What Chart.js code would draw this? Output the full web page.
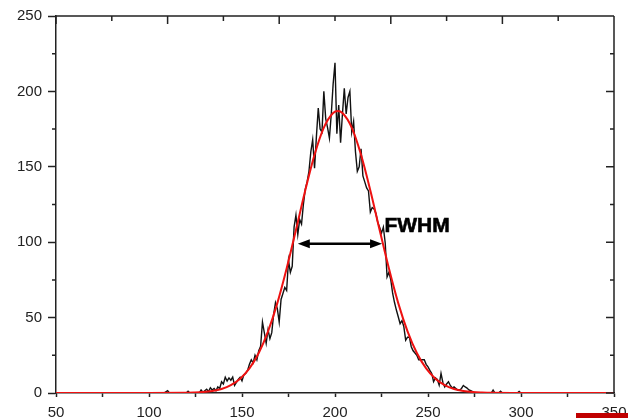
<!DOCTYPE html>
<html><head><meta charset="utf-8">
<script src="https://cdn.jsdelivr.net/npm/chart.js@4/dist/chart.umd.min.js"></script>
<style>
html,body{margin:0;padding:0;background:#fff;}
#wrap{position:relative;width:628px;height:418px;overflow:hidden;background:#fff;}
#mark{position:absolute;left:576px;top:413px;width:52px;height:5px;background:#c00000;}
</style></head><body>
<div id="wrap"><canvas id="c" width="628" height="418"></canvas><div id="mark"></div></div>
<script>
// Measured counts (noisy trace)
const COUNTS_X = [50,108,110,111,120,121,122,127,128,129,131,132,133,134,135,136,137,138,139,140,141,142,143,144,145,146,147,148,149,150,151,152,153,154,155,156,157,158,159,160,161,162,163,164,165,166,167,168,169,170,171,172,173,174,175,176,177,178,179,180,181,182,183,184,185,186,187,188,189,190,191,192,193,194,195,196,197,198,199,200,201,202,203,204,205,206,207,208,209,210,211,212,213,214,215,216,217,218,219,220,221,222,223,224,225,226,227,228,229,230,231,232,233,234,235,236,237,238,239,240,241,242,243,244,245,246,247,248,249,250,251,252,253,254,255,256,257,258,259,260,261,262,263,264,265,266,267,268,269,270,271,272,273,274,275,284,285,286,288,289,290,298,299,300,350];
const COUNTS_Y = [0,0,1.5,0,0,1.2,0,0,2,0.5,2.5,1,3.5,2,3,1.5,4,3,7.5,6,10.5,8,10,8.5,10.5,5,7,9,10.5,8,12,13,15,19,22,20,25,22,28,31,47,40,33,42,36,40,52,60,56,47,62,66,70,68,88,80,84,110,118,105,115,112,125,135,140,147,160,168,149,170,189,175,173,200,182,176,169,185,205,219,172,191,166,185,202,185,196,200,173,180,160,147,150,162,144,140,136,134,120,123,122,119,113,110,106,110,99.5,77,80,75,66,60,55,50.6,46,48,44,35,37,37,30.7,28,26.5,25,22,22,22,22,19,17.4,15,13,7.5,10,9,5.3,13,7,4,6,7.5,5,3.3,4,3,2,2,3,5,4,3.3,2,1.5,1,0,0,2,0,0,1.2,0,0,1,0,0];
// Gaussian fit trace
const FIT_X = [50,100,119,124,129,134,139,144,149,154,159,164,169,174,179,184,189,194,199,201.5,204,209,214,219,224,229,234,239,244,249,254,259,264,269,274,279,284,300,350];
const FIT_Y = [0,0,0.1,0.3,0.64,1.35,2.7,5.2,9.5,16.3,26.5,40.9,59.6,82.5,108.1,134.3,158,176,185.7,187,185.7,176,158,134.3,108.1,82.5,59.6,40.9,26.5,16.3,9.5,5.2,2.7,1.35,0.64,0.3,0.1,0,0];
// Axis tick labels
const X_TICKS = [50,100,150,200,250,300,350];
const Y_TICKS = [0,50,100,150,200,250];
const TOP_TICKS = [50,80,110,140,170,200,230,260,290,320,350];
// FWHM annotation (data coordinates)
const FWHM_X = [180, 225.3];
const FWHM_Y = 99;
const FWHM_LABEL = 'FWHM';
const FWHM_LABEL_AT = [226.6, 110.9];

const AXIS = '#222';
const FONT = '"Liberation Sans", Arial, sans-serif';

const frame = {
  id: 'frame',
  afterDatasetsDraw(chart) {
    const {ctx, chartArea: a, scales: {x, y}} = chart;
    ctx.save();
    ctx.strokeStyle = AXIS;
    ctx.lineWidth = 1.5;
    ctx.beginPath();
    ctx.moveTo(a.left, a.top); ctx.lineTo(a.right, a.top);
    ctx.moveTo(a.right, a.top); ctx.lineTo(a.right, a.bottom);
    y.ticks.forEach(t => {
      const p = y.getPixelForValue(t.value);
      const major = Y_TICKS.includes(t.value);
      if (!major) { ctx.moveTo(a.left - 4, p); ctx.lineTo(a.left, p); }
      ctx.moveTo(a.right, p); ctx.lineTo(a.right - (major ? 8 : 4), p);
    });
    TOP_TICKS.forEach((v, i) => {
      const p = x.getPixelForValue(v);
      ctx.moveTo(p, a.top); ctx.lineTo(p, a.top + (i % 2 === 0 ? 8 : 5));
    });
    ctx.stroke();

    // FWHM arrow
    const x1 = x.getPixelForValue(FWHM_X[0]);
    const x2 = x.getPixelForValue(FWHM_X[1]);
    const py = y.getPixelForValue(FWHM_Y);
    const hl = 12, hw = 4.5;
    ctx.strokeStyle = '#000';
    ctx.fillStyle = '#000';
    ctx.lineWidth = 2.5;
    ctx.beginPath();
    ctx.moveTo(x1 + hl - 2, py); ctx.lineTo(x2 - hl + 2, py);
    ctx.stroke();
    ctx.beginPath();
    ctx.moveTo(x1, py); ctx.lineTo(x1 + hl, py - hw); ctx.lineTo(x1 + hl, py + hw); ctx.closePath();
    ctx.moveTo(x2, py); ctx.lineTo(x2 - hl, py - hw); ctx.lineTo(x2 - hl, py + hw); ctx.closePath();
    ctx.fill();

    ctx.font = 'bold 21px ' + FONT;
    ctx.textAlign = 'left';
    ctx.textBaseline = 'middle';
    ctx.lineWidth = 0.6;
    const lx = x.getPixelForValue(FWHM_LABEL_AT[0]);
    const ly = y.getPixelForValue(FWHM_LABEL_AT[1]);
    ctx.fillText(FWHM_LABEL, lx, ly);
    ctx.strokeText(FWHM_LABEL, lx, ly);
    ctx.restore();
  }
};

const toPts = (xs, ys) => xs.map((v, i) => ({x: v, y: ys[i]}));

new Chart(document.getElementById('c'), {
  type: 'line',
  data: {
    datasets: [
      {
        label: 'Fit',
        data: toPts(FIT_X, FIT_Y),
        borderColor: '#ee1111',
        borderWidth: 2,
        pointRadius: 0,
        tension: 0.4,
        cubicInterpolationMode: 'monotone',
        fill: false,
        order: 0
      },
      {
        label: 'Counts',
        data: toPts(COUNTS_X, COUNTS_Y),
        borderColor: '#111',
        borderWidth: 1.4,
        pointRadius: 0,
        tension: 0,
        fill: false,
        order: 1
      }
    ]
  },
  options: {
    responsive: false,
    animation: false,
    devicePixelRatio: 1,
    layout: {padding: {left: 0, top: 16, right: 14, bottom: 0}},
    plugins: {legend: {display: false}, tooltip: {enabled: false}},
    scales: {
      x: {
        type: 'linear', position: 'bottom', min: 50, max: 350,
        afterFit: s => { s.height = 25; s.paddingLeft = 0; s.paddingRight = 0; },
        ticks: {
          stepSize: 25, autoSkip: false, maxRotation: 0, padding: 7,
          color: AXIS, font: {family: FONT, size: 15},
          callback: v => X_TICKS.includes(v) ? String(v) : ''
        },
        grid: {drawOnChartArea: false, tickLength: 4, tickColor: AXIS, tickWidth: 1.5},
        border: {color: AXIS, width: 1.5}
      },
      y: {
        type: 'linear', position: 'left', min: 0, max: 250,
        afterFit: s => { s.width = 56; s.paddingTop = 0; s.paddingBottom = 0; },
        ticks: {
          stepSize: 25, autoSkip: false, padding: 6,
          color: AXIS, font: {family: FONT, size: 15},
          callback: v => Y_TICKS.includes(v) ? String(v) : ''
        },
        grid: {
          drawOnChartArea: false, tickLength: 8, tickWidth: 1.5,
          tickColor: c => (c.tick && Y_TICKS.includes(c.tick.value)) ? AXIS : 'rgba(0,0,0,0)'
        },
        border: {color: AXIS, width: 1.5}
      }
    }
  },
  plugins: [frame]
});
</script>
</body></html>
